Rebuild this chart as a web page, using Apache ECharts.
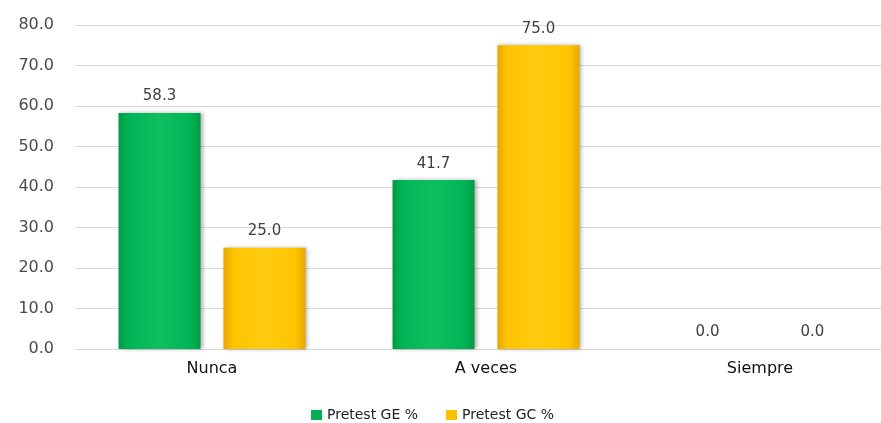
<!DOCTYPE html>
<html><head><meta charset="utf-8">
<script src="https://cdn.jsdelivr.net/npm/echarts@6/dist/echarts.min.js"></script>
<style>html,body{margin:0;padding:0;background:#fff;overflow:hidden}#c{width:900px;height:423px}</style>
</head><body><div id="c"></div>
<script>
const categories = ['Nunca', 'A veces', 'Siempre'];
const seriesNames = ['Pretest GE %', 'Pretest GC %'];
const valuesGE = [58.3, 41.7, 0.0];
const valuesGC = [25.0, 75.0, 0.0];

function grad(dark, mid, light) {
  return new echarts.graphic.LinearGradient(0, 0, 1, 0, [
    {offset: 0, color: dark}, {offset: 0.12, color: mid}, {offset: 0.5, color: light},
    {offset: 0.88, color: mid}, {offset: 1, color: dark}
  ]);
}
const greenFill = grad('#009a45', '#00b455', '#10c060');
const yellowFill = grad('#e8a800', '#ffc400', '#ffcc10');

const chart = echarts.init(document.getElementById('c'));
const labelStyle = {show: true, position: 'top', distance: 9, fontFamily: 'DejaVu Sans', fontSize: 15, color: '#404040',
  formatter: p => p.value.toFixed(1)};
chart.setOption({
  animation: false,
  grid: {left: 75, top: 25, width: 822, height: 324, containLabel: false},
  legend: {
    left: 306, top: 403, itemWidth: 11, itemHeight: 10, itemGap: 28,
    textStyle: {fontFamily: 'DejaVu Sans', fontSize: 14, color: '#222'},
    data: [
      {name: seriesNames[0], icon: 'rect', itemStyle: {color: '#00b050'}},
      {name: seriesNames[1], icon: 'rect', itemStyle: {color: '#ffc000'}}
    ]
  },
  xAxis: {
    type: 'category', data: categories,
    axisLine: {lineStyle: {color: '#d9d9d9', width: 1}},
    axisTick: {show: false},
    axisLabel: {fontFamily: 'DejaVu Sans', fontSize: 16, color: '#111', margin: 12}
  },
  yAxis: {
    type: 'value', min: 0, max: 80, interval: 10,
    axisLine: {show: false}, axisTick: {show: false},
    splitLine: {lineStyle: {color: '#d9d9d9', width: 1}},
    axisLabel: {fontFamily: 'DejaVu Sans', fontSize: 16, color: '#4a4a4a', margin: 21, formatter: v => v.toFixed(1)}
  },
  series: [
    {name: seriesNames[0], type: 'bar', data: valuesGE, barWidth: 82, barGap: '28%',
      itemStyle: {color: greenFill, shadowColor: 'rgba(0,0,0,0.3)', shadowBlur: 4, shadowOffsetX: 2, shadowOffsetY: 0},
      label: labelStyle},
    {name: seriesNames[1], type: 'bar', data: valuesGC, barWidth: 82,
      itemStyle: {color: yellowFill, shadowColor: 'rgba(0,0,0,0.3)', shadowBlur: 4, shadowOffsetX: 2, shadowOffsetY: 0},
      label: labelStyle}
  ]
});
</script></body></html>
